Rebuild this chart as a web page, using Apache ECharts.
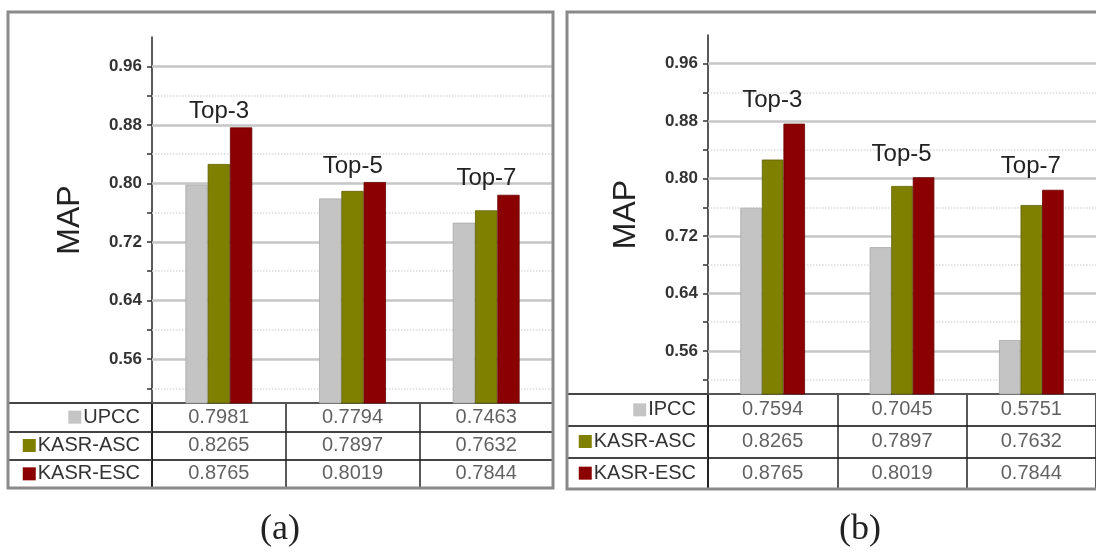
<!DOCTYPE html>
<html>
<head>
<meta charset="utf-8">
<script src="https://cdn.jsdelivr.net/npm/echarts@6/dist/echarts.min.js"></script>
<style>
  html, body { margin: 0; padding: 0; background: #fff; }
  #chart { width: 1096px; height: 555px; }
</style>
</head>
<body>
<div id="chart"></div>
<script>
// categories / rows
const categories = ['Top-3', 'Top-5', 'Top-7'];
const rowNamesA = ['UPCC', 'KASR-ASC', 'KASR-ESC'];
const rowNamesB = ['IPCC', 'KASR-ASC', 'KASR-ESC'];

// MAP values, panel (a)
const upccA = [0.7981, 0.7794, 0.7463];
const ascA = [0.8265, 0.7897, 0.7632];
const escA = [0.8765, 0.8019, 0.7844];

// MAP values, panel (b)
const ipccB = [0.7594, 0.7045, 0.5751];
const ascB = [0.8265, 0.7897, 0.7632];
const escB = [0.8765, 0.8019, 0.7844];

// y axis
const yLabels = [0.56, 0.64, 0.72, 0.80, 0.88, 0.96];
const yMinor = [0.52, 0.60, 0.68, 0.76, 0.84, 0.92];
const yRange = [0.5, 1.0];

const colors = ['#c4c4c4', '#7f7f00', '#8b0000'];
const borders = ['#a8a8a8', '#5f5f00', '#6a0000'];
const SANS = "'Liberation Sans', Arial, sans-serif";

const panels = [
  { caption: '(a)', rows: rowNamesA, values: [upccA, ascA, escA],
    left: 152, width: 401, top: 37, chartH: 366, tableH: 85,
    frame: [8, 12, 545, 476], capLeft: 260, topDist: 4 },
  { caption: '(b)', rows: rowNamesB, values: [ipccB, ascB, escB],
    left: 708, width: 394, top: 35, chartH: 359, tableH: 95,
    frame: [567, 12, 535, 477], capLeft: 839, topDist: 11 }
];

const yTicks = yMinor.concat(yLabels).sort((a, b) => a - b);

const grid = [], xAxis = [], yAxis = [], series = [], graphic = [], title = [];

panels.forEach((p, i) => {
  const cg = i * 2, tg = i * 2 + 1;
  grid.push({ left: p.left, top: p.top, width: p.width, height: p.chartH });
  grid.push({ left: p.left, top: p.top + p.chartH, width: p.width, height: p.tableH });

  // chart axes
  xAxis.push({
    gridIndex: cg, type: 'category', data: categories,
    axisLine: { show: true, lineStyle: { color: '#555', width: 2 } },
    axisTick: { show: false }, axisLabel: { show: false }, splitLine: { show: false }
  });
  yAxis.push({
    gridIndex: cg, type: 'value', min: yRange[0], max: yRange[1],
    axisLine: { show: true, lineStyle: { color: '#222', width: 1.5 } },
    axisTick: { show: true, customValues: yTicks, length: 5, lineStyle: { color: '#333', width: 1.5 } },
    axisLabel: {
      customValues: yLabels, margin: 10, fontFamily: SANS, fontWeight: 'bold',
      fontSize: 17, color: '#333', formatter: v => v.toFixed(2)
    },
    splitLine: { show: false },
    name: 'MAP', nameLocation: 'middle', nameGap: 66,
    nameTextStyle: { fontSize: 32, fontFamily: SANS, color: '#222' }
  });

  // table axes
  xAxis.push({
    gridIndex: tg, type: 'category', data: categories,
    axisLine: { show: false }, axisTick: { show: false }, axisLabel: { show: false },
    splitLine: { show: true, interval: 0, lineStyle: { color: '#222', width: 1.5 } }
  });
  const rich = { t: { fontFamily: SANS, fontSize: 20, color: '#333', padding: [0, 0, 0, 2] } };
  colors.forEach((c, k) => {
    rich['s' + k] = { width: 13, height: 13, lineHeight: 13, backgroundColor: c, fontSize: 10 };
  });
  yAxis.push({
    gridIndex: tg, type: 'category', data: p.rows, inverse: true,
    axisLine: { show: true, lineStyle: { color: '#111', width: 1.5 } },
    axisTick: { show: true, length: p.left - p.frame[0], lineStyle: { color: '#444', width: 2 } },
    axisLabel: { margin: 12, formatter: (v, idx) => '{s' + idx + '|\u00a0}{t|' + v + '}', rich },
    splitLine: { show: true, interval: 0, lineStyle: { color: '#444', width: 2 } }
  });

  // bars
  p.values.forEach((vals, k) => {
    const s = {
      name: p.rows[k], type: 'bar', xAxisIndex: cg, yAxisIndex: cg, data: vals,
      barGap: '0%', barCategoryGap: '50%', z: 2,
      itemStyle: { color: colors[k], borderColor: borders[k], borderWidth: 0.8 }
    };
    if (k === 0) {
      s.markLine = {
        silent: true, symbol: ['none', 'none'], label: { show: false }, z: 1,
        data: yLabels.map(v => ({ yAxis: v, lineStyle: { color: '#c6c6c6', width: 2.5, type: 'solid' } }))
          .concat(yMinor.map(v => ({ yAxis: v, lineStyle: { color: '#dcdcdc', width: 1.5, type: 'dotted' } })))
      };
    }
    if (k === 2) {
      s.label = {
        show: true, position: 'top', distance: p.topDist, offset: [-22, 0],
        formatter: q => q.name, fontFamily: SANS, fontSize: 24, color: '#222'
      };
    }
    series.push(s);
  });

  // table cells
  const cells = [];
  p.values.forEach((vals, r) => vals.forEach((v, c) => cells.push([c, r, v])));
  series.push({
    type: 'scatter', xAxisIndex: tg, yAxisIndex: tg, data: cells,
    symbolSize: 1, itemStyle: { color: 'rgba(0,0,0,0)' }, silent: true,
    label: {
      show: true, position: 'inside', formatter: q => q.value[2].toFixed(4),
      fontFamily: SANS, fontSize: 20, color: '#3a3a3a'
    }
  });

  graphic.push({
    type: 'rect', z: 10, silent: true,
    shape: { x: p.frame[0], y: p.frame[1], width: p.frame[2], height: p.frame[3] },
    style: { fill: 'none', stroke: '#8a8a8a', lineWidth: 3 }
  });

  title.push({
    text: p.caption, left: p.capLeft, top: 512, padding: 0,
    textStyle: { fontFamily: "'Liberation Serif', 'Times New Roman', serif", fontSize: 36, fontWeight: 'normal', color: '#222' }
  });
});

const chart = echarts.init(document.getElementById('chart'));
chart.setOption({
  animation: false,
  backgroundColor: '#fff',
  title, grid, xAxis, yAxis, series, graphic
});
</script>
</body>
</html>
